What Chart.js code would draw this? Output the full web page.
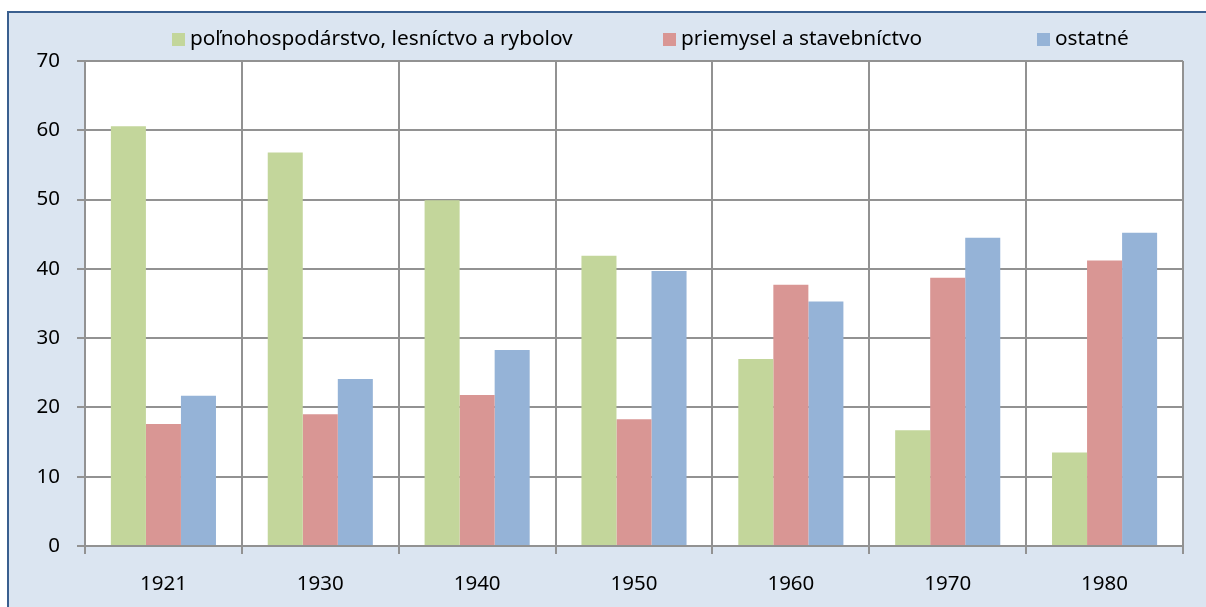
<!DOCTYPE html>
<html lang="sk">
  <head>
    <meta charset="UTF-8" />
    <title>Štruktúra zamestnanosti podľa odvetví 1921-1980</title>
    <script src="https://cdn.jsdelivr.net/npm/chart.js@4.4.1/dist/chart.umd.min.js"></script>
    <style>
      html, body { margin: 0; padding: 0; background: #fff; overflow: hidden; }
      #frame {
        position: absolute; left: 7px; top: 11px; right: 0; bottom: -10px;
        background: #dbe5f1;
        border-left: 2px solid #3a5f8f;
        border-top: 2px solid #3a5f8f;
      }
      #myChart { position: absolute; left: 0; top: 0; }
    </style>
  </head>
  <body>
    <div id="frame"></div>
    <canvas id="myChart" width="1206" height="607"></canvas>

    <script>
      // podiel zamestnaných podľa odvetví (%)
      const years = ["1921", "1930", "1940", "1950", "1960", "1970", "1980"];
      const agriculture = [60.6, 56.8, 49.9, 41.9, 27.0, 16.7, 13.5];
      const industry = [17.6, 19.0, 21.8, 18.3, 37.7, 38.7, 41.2];
      const others = [21.7, 24.1, 28.3, 39.7, 35.3, 44.5, 45.2];
      const seriesNames = [
        "poľnohospodárstvo, lesníctvo a rybolov",
        "priemysel a stavebníctvo",
        "ostatné",
      ];
      const yTicks = [0, 10, 20, 30, 40, 50, 60, 70];

      const FONT = "'Noto Sans', sans-serif";
      const gridColor = "#929292";

      // white plot area + legend drawn in one row
      const excelLook = {
        id: "excelLook",
        beforeDraw(chart, args, opts) {
          const { ctx, chartArea: a } = chart;
          ctx.save();
          ctx.fillStyle = "#ffffff";
          ctx.fillRect(a.left, a.top, a.right - a.left, a.bottom - a.top);
          ctx.restore();
        },
        afterDraw(chart, args, opts) {
          const ctx = chart.ctx;
          ctx.save();
          ctx.font = "20.8px " + FONT;
          ctx.textBaseline = "middle";
          chart.data.datasets.forEach((ds, i) => {
            const x = opts.itemX[i];
            ctx.fillStyle = ds.backgroundColor;
            ctx.fillRect(x, opts.y - 6, 13, 13);
            ctx.fillStyle = "#000";
            ctx.fillText(ds.label, x + 18, opts.y);
          });
          ctx.restore();
        },
      };

      const ctx = document.getElementById("myChart").getContext("2d");
      const myChart = new Chart(ctx, {
        type: "bar",
        data: {
          labels: years,
          datasets: [
            { label: seriesNames[0], data: agriculture, backgroundColor: "#c3d69b" },
            { label: seriesNames[1], data: industry, backgroundColor: "#d99694" },
            { label: seriesNames[2], data: others, backgroundColor: "#95b3d7" },
          ],
        },
        options: {
          responsive: false,
          devicePixelRatio: 1,
          animation: false,
          layout: { padding: { left: 0, top: 61, right: 23, bottom: 0 } },
          datasets: {
            bar: { categoryPercentage: 0.67, barPercentage: 1.0 },
          },
          plugins: {
            legend: { display: false },
            tooltip: { enabled: false },
            excelLook: { itemX: [172, 663, 1037], y: 39 },
          },
          scales: {
            x: {
              grid: {
                offset: true,
                color: gridColor,
                lineWidth: 2,
                tickLength: 8,
              },
              border: { color: gridColor, width: 2 },
              ticks: {
                color: "#000",
                padding: 18,
                font: { family: FONT, size: 20.5 },
              },
              afterFit(scale) {
                scale.height = 61;
              },
            },
            y: {
              min: 0,
              max: 70,
              afterBuildTicks(scale) {
                scale.ticks = yTicks.map((v) => ({ value: v }));
              },
              grid: { color: gridColor, lineWidth: 2, tickLength: 8 },
              border: { color: gridColor, width: 2 },
              ticks: {
                color: "#000",
                padding: 17,
                font: { family: FONT, size: 20.5 },
              },
              afterFit(scale) {
                scale.width = 85;
              },
            },
          },
        },
        plugins: [excelLook],
      });
    </script>
  </body>
</html>
